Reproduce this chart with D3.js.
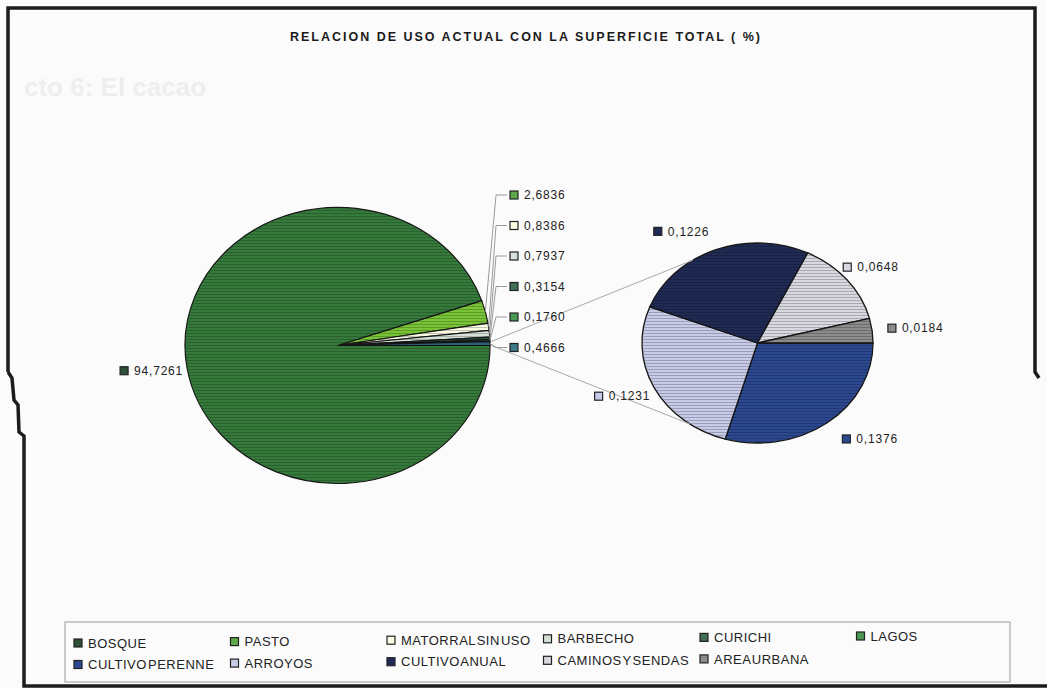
<!DOCTYPE html>
<html><head><meta charset="utf-8">
<script src="https://cdn.jsdelivr.net/npm/d3@7/dist/d3.min.js"></script>
<style>
html,body{margin:0;padding:0;background:#fbfbfb;}
svg{display:block;font-family:"Liberation Sans",Arial,sans-serif;}
</style></head>
<body>
<svg id="chart" width="1047" height="688"></svg>
<script>
// ---------------- DATA ----------------
const title = "RELACION DE USO ACTUAL CON LA SUPERFICIE TOTAL ( %)";
const mainCategories = ["BOSQUE", "PASTO", "MATORRAL SIN USO", "BARBECHO", "CURICHI", "LAGOS"];
const mainValues = [94.7261, 2.6836, 0.8386, 0.7937, 0.3154, 0.1760];
const otherValue = 0.4666;
const secondCategories = ["CULTIVO PERENNE", "ARROYOS", "CULTIVO ANUAL", "CAMINOS Y SENDAS", "AREA URBANA"];
const secondValues = [0.1376, 0.1231, 0.1226, 0.0648, 0.0184];
const legendOrder = ["BOSQUE", "PASTO", "MATORRAL SIN USO", "BARBECHO", "CURICHI", "LAGOS",
                     "CULTIVO PERENNE", "ARROYOS", "CULTIVO ANUAL", "CAMINOS Y SENDAS", "AREA URBANA"];
const ghostText = "cto 6: El cacao";

// ---------------- STYLE ----------------
const colors = {
  "BOSQUE": "url(#bosqueGrad)", "PASTO": "#78c436", "MATORRAL SIN USO": "#fbfbe4",
  "BARBECHO": "#d6e2d8", "CURICHI": "#2f5a45", "LAGOS": "#3f8a4a", "OTROS": "#2a6078",
  "CULTIVO PERENNE": "#2b4890", "ARROYOS": "#c7cbe7", "CULTIVO ANUAL": "#1f2a55",
  "CAMINOS Y SENDAS": "#d8d8e0", "AREA URBANA": "#8c8c8c"
};
const swatch = Object.assign({}, colors, {"BOSQUE": "#2f4f37", "PASTO": "#5fa84a", "OTROS": "#3d7b8c",
  "CURICHI": "#3f6e55", "LAGOS": "#4a9a55"});

const svg = d3.select("#chart");
const defs = svg.append("defs");
const fmt = v => d3.format(".4f")(v).replace(".", ",");

// pie geometry (ellipses: the scanned chart is slightly stretched)
const M = {cx: 337.5, cy: 345.5, rx: 152.5, ry: 138};
const S = {cx: 757.5, cy: 343, rx: 115.5, ry: 100};

const g1 = defs.append("linearGradient").attr("id", "bosqueGrad")
  .attr("gradientUnits", "userSpaceOnUse")
  .attr("x1", M.cx - M.rx).attr("x2", M.cx + M.rx).attr("y1", 0).attr("y2", 0);
g1.append("stop").attr("offset", 0).attr("stop-color", "#367a3b");
g1.append("stop").attr("offset", 0.5).attr("stop-color", "#316c37");
g1.append("stop").attr("offset", 1).attr("stop-color", "#294f31");

const pat = defs.append("pattern").attr("id", "scan").attr("patternUnits", "userSpaceOnUse")
  .attr("width", 6).attr("height", 3);
pat.append("rect").attr("x", 0).attr("y", 0).attr("width", 6).attr("height", 1).attr("fill", "rgba(0,0,0,0.22)");

// background ghost text (scan bleed-through)
svg.append("text").attr("x", 24).attr("y", 96).text(ghostText)
  .attr("font-size", 26).attr("font-weight", "bold").attr("fill", "#eeeeee");

// frame
const frame = d3.path();
frame.moveTo(8, 372); frame.lineTo(8, 8); frame.lineTo(1035, 8); frame.lineTo(1035, 372); frame.lineTo(1039, 378);
svg.append("path").attr("d", frame.toString()).attr("fill", "none").attr("stroke", "#1c1c1c").attr("stroke-width", 3.5);
const frame2 = d3.path();
frame2.moveTo(8, 372); frame2.lineTo(12, 378); frame2.lineTo(14, 400); frame2.lineTo(18, 405); frame2.lineTo(19, 432);
frame2.lineTo(24, 436); frame2.lineTo(24, 686); frame2.lineTo(1047, 686);
svg.append("path").attr("d", frame2.toString()).attr("fill", "none").attr("stroke", "#1c1c1c").attr("stroke-width", 3.5);

// title
svg.append("text").attr("x", 290).attr("y", 41).text(title)
  .attr("font-size", 12.5).attr("font-weight", "bold").attr("fill", "#1a1a1a")
  .attr("textLength", 470).attr("lengthAdjust", "spacing");

function ellPoint(E, a, k) {
  return [E.cx + E.rx * k * Math.sin(a), E.cy - E.ry * k * Math.cos(a)];
}

// ---------------- MAIN PIE ----------------
const smallMain = mainCategories.slice(1).map((c, i) => ({cat: c, value: mainValues[i + 1]}));
smallMain.push({cat: "OTROS", value: otherValue});
const mainData = smallMain.concat([{cat: mainCategories[0], value: mainValues[0]}]);
const total = d3.sum(mainData, d => d.value);
const smallSum = d3.sum(smallMain, d => d.value);
const start = Math.PI / 2 - 2 * Math.PI * smallSum / total;
const mainPie = d3.pie().sort(null).value(d => d.value).startAngle(start).endAngle(start + 2 * Math.PI);
const mainArcs = mainPie(mainData);
const arcM = d3.arc().innerRadius(0).outerRadius(M.rx);

const gm = svg.append("g").attr("transform", `translate(${M.cx},${M.cy}) scale(1,${M.ry / M.rx})`);
gm.selectAll("path.slice").data(mainArcs).join("path").attr("class", "slice")
  .attr("d", arcM).attr("fill", d => colors[d.data.cat])
  .attr("stroke", "#161616").attr("stroke-width", 1.2).attr("vector-effect", "non-scaling-stroke");
svg.append("ellipse").attr("cx", M.cx).attr("cy", M.cy).attr("rx", M.rx - 1).attr("ry", M.ry - 1).attr("fill", "url(#scan)");

// ---------------- SECOND PIE ----------------
const secData = secondCategories.map((c, i) => ({cat: c, value: secondValues[i]}));
const secPie = d3.pie().sort(null).value(d => d.value).startAngle(Math.PI / 2).endAngle(Math.PI / 2 + 2 * Math.PI);
const secArcs = secPie(secData);
const arcS = d3.arc().innerRadius(0).outerRadius(S.rx);
const gs = svg.append("g").attr("transform", `translate(${S.cx},${S.cy}) scale(1,${S.ry / S.rx})`);
gs.selectAll("path.slice").data(secArcs).join("path").attr("class", "slice")
  .attr("d", arcS).attr("fill", d => colors[d.data.cat])
  .attr("stroke", "#161616").attr("stroke-width", 1.3).attr("vector-effect", "non-scaling-stroke");
svg.append("ellipse").attr("cx", S.cx).attr("cy", S.cy).attr("rx", S.rx - 1).attr("ry", S.ry - 1).attr("fill", "url(#scan)");

// connector lines between pies
const otherArc = mainArcs.find(d => d.data.cat === "OTROS");
const c1 = ellPoint(M, otherArc.startAngle, 1.01), c2 = ellPoint(M, otherArc.endAngle, 1.01);
const t1 = ellPoint(S, -34 * Math.PI / 180, 1), t2 = ellPoint(S, 216 * Math.PI / 180, 1);
[[c1, t1], [c2, t2]].forEach(([p, q]) => {
  svg.append("line").attr("x1", p[0]).attr("y1", p[1]).attr("x2", q[0]).attr("y2", q[1])
    .attr("stroke", "#a8a8a8").attr("stroke-width", 1);
});

// ---------------- LABELS ----------------
const LBL_FS = 12, LBL_LS = 0.8, SQ = 8;
function drawLabel(x, y, cat, text) {
  svg.append("rect").attr("x", x).attr("y", y - SQ / 2).attr("width", SQ).attr("height", SQ)
    .attr("fill", swatch[cat]).attr("stroke", "#222").attr("stroke-width", 1.2);
  svg.append("text").attr("x", x + SQ + 6).attr("y", y + 4.3).text(text)
    .attr("font-size", LBL_FS).attr("letter-spacing", LBL_LS).attr("fill", "#222");
}
const labelW = 54;

// small slices of main pie: stacked column with leader lines
const smallArcs = mainArcs.filter(d => d.data.cat !== "BOSQUE");
const n = smallArcs.length;
const colX = M.cx + M.rx + 20;
smallArcs.forEach((d, i) => {
  const ly = M.cy + 2 - (n - 1 - i) * 30.5;
  const mid = (d.startAngle + d.endAngle) / 2;
  const p = ellPoint(M, mid, 1.0);
  const path = d3.path();
  path.moveTo(p[0], p[1]);
  if (Math.abs(p[1] - ly) > 3) path.lineTo(colX - 14, ly);
  path.lineTo(colX - 3, ly);
  svg.append("path").attr("d", path.toString()).attr("fill", "none")
    .attr("stroke", "#9a9a9a").attr("stroke-width", 1);
  drawLabel(colX, ly, d.data.cat, fmt(d.data.value));
});

// bosque label (left side, end-anchored)
const bos = mainArcs.find(d => d.data.cat === "BOSQUE");
{
  const mid = (bos.startAngle + bos.endAngle) / 2;
  const p = ellPoint(M, mid, 1.02);
  drawLabel(p[0] - labelW - 10, p[1] + 2, "BOSQUE", fmt(bos.data.value));
}

// second pie labels
secArcs.forEach(d => {
  const mid = (d.startAngle + d.endAngle) / 2;
  const p = ellPoint(S, mid, 1.16);
  const cx = p[0] + Math.sin(mid) * labelW / 2 - Math.cos(mid) * 19;
  const cy = p[1] - Math.cos(mid) * 4;
  drawLabel(cx - labelW / 2, cy, d.data.cat, fmt(d.data.value));
});

// ---------------- LEGEND ----------------
const L = {x: 65, y: 622, w: 945, h: 60};
svg.append("rect").attr("x", L.x).attr("y", L.y).attr("width", L.w).attr("height", L.h)
  .attr("fill", "none").attr("stroke", "#9a9a9a").attr("stroke-width", 1);
const perRow = 6, colW = 156.5;
legendOrder.forEach((cat, i) => {
  const col = i % perRow, row = Math.floor(i / perRow);
  const x = L.x + 9 + col * colW;
  const y = L.y + 21 + row * 21.5 - col * 1.4;
  svg.append("rect").attr("x", x).attr("y", y - 4).attr("width", 8).attr("height", 8)
    .attr("fill", swatch[cat]).attr("stroke", "#222").attr("stroke-width", 1.2);
  svg.append("text").attr("x", x + 14).attr("y", y + 4.6).text(cat)
    .attr("font-size", 13).attr("letter-spacing", 0.5).attr("word-spacing", -3)
    .attr("fill", "#222");
});
</script>
</body></html>
